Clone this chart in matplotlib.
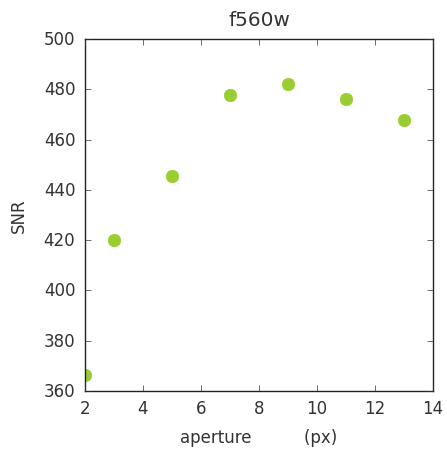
import matplotlib
matplotlib.use("Agg")
import matplotlib.pyplot as plt

plt.style.use("classic")
plt.rcParams["text.color"] = "#333333"
plt.rcParams["axes.labelcolor"] = "#333333"
plt.rcParams["axes.edgecolor"] = "#222222"
plt.rcParams["xtick.color"] = "#333333"
plt.rcParams["ytick.color"] = "#333333"

# aperture radius (px) vs signal-to-noise
aperture = [2, 3, 5, 7, 9, 11, 13]
snr = [366.5, 420, 445.6, 477.7, 482.2, 476, 467.8]

fig = plt.figure(figsize=(4.47, 4.52), dpi=100, facecolor="white")
ax = fig.add_axes([85 / 447, 60 / 452, 348 / 447, 352 / 452])

ax.plot(aperture, snr, "o", color="yellowgreen", markeredgecolor="yellowgreen",
        markersize=9)

ax.set_xlim(2, 14)
ax.set_ylim(360, 500)
ax.tick_params(axis="x", which="both", pad=6)
ax.tick_params(axis="y", which="both", pad=7)
ax.set_xlabel("aperture          (px)", labelpad=8)
ax.set_ylabel("SNR", labelpad=11)
ax.set_title("f560w", pad=10)

fig.savefig("out.png", dpi=100, facecolor="white")
